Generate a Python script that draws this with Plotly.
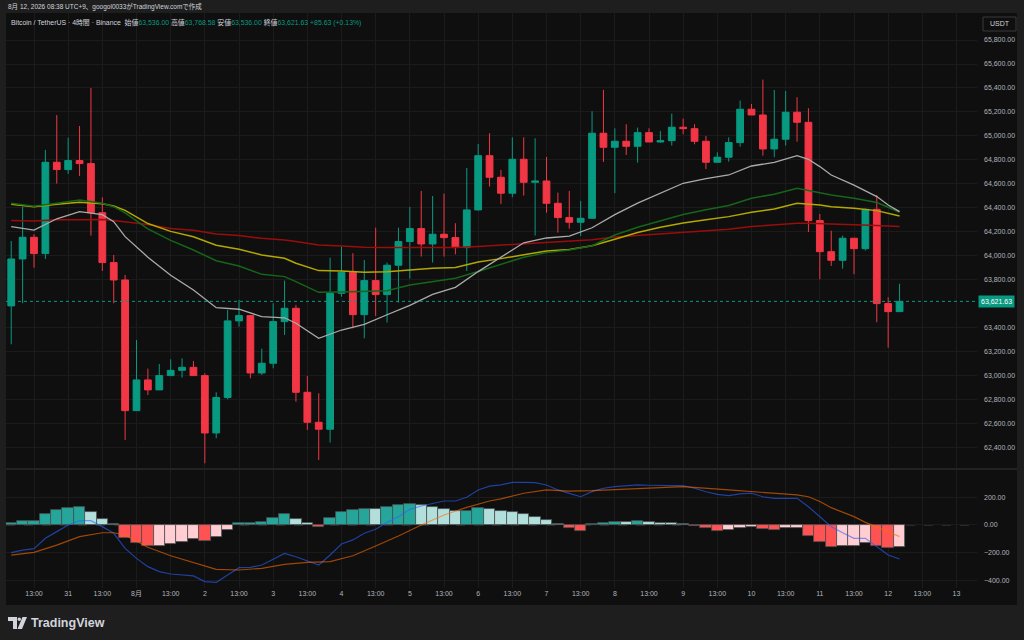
import pandas as pd
import plotly.graph_objects as go

# 4h candles, JST (UTC+9)
start = pd.Timestamp('2026-07-30 05:00')
times = pd.date_range(start, periods=79, freq='4h')

opens = [63584, 63975, 64156, 64020, 64781, 64720, 64795, 64770, 64361, 63945,
         63800, 62711, 62967, 62884, 63003, 63047, 63072, 63003, 62525, 62820,
         63459, 63503, 63025, 63106, 63453, 63564, 62864, 62614, 62556, 63689,
         63864, 63511, 63795, 63678, 63923, 64120, 64228, 64100, 64181, 64153,
         64070, 64384, 64836, 64656, 64523, 64806, 64614, 64625, 64439, 64320,
         64281, 64314, 65023, 64906, 64956, 64914, 65028, 64950, 64961, 65073,
         65061, 64956, 64781, 64823, 64945, 65223, 65175, 64892, 64973, 65198,
         65114, 64295, 64036, 63964, 64148, 64061, 64389, 63603, 63536.00]
highs = [64125, 64411, 64181, 64884, 65175, 64986, 65084, 65400, 64489, 64009,
         63842, 63300, 63061, 63100, 63139, 63147, 63125, 63022, 62864, 63550,
         63634, 63503, 63228, 63606, 63795, 63592, 63000, 62856, 63986, 64078,
         64023, 63967, 64236, 63945, 64236, 64409, 64542, 64500, 64520, 64273,
         64734, 64934, 65023, 64717, 64989, 64989, 64981, 64825, 64528, 64542,
         64459, 65206, 65384, 65064, 65098, 65070, 65064, 65042, 65186, 65145,
         65098, 65000, 64864, 64989, 65295, 65267, 65470, 65384, 65375, 65323,
         65231, 64350, 64211, 64170, 64148, 64395, 64509, 63656, 63768.58]
lows = [63264, 63606, 63903, 63975, 64603, 64684, 64667, 64170, 63875, 63606,
        62467, 62711, 62842, 62884, 63003, 62986, 63003, 62272, 62481, 62806,
        63411, 62981, 63009, 63064, 63342, 62786, 62550, 62300, 62445, 63661,
        63397, 63314, 63500, 63445, 63611, 63811, 63995, 63945, 63995, 64014,
        63875, 64378, 64578, 64434, 64489, 64503, 64170, 64361, 64195, 64228,
        64167, 64314, 64784, 64523, 64842, 64778, 64950, 64945, 64920, 65014,
        64931, 64725, 64781, 64786, 64911, 65175, 64836, 64823, 64920, 64953,
        64200, 63806, 63917, 63895, 63848, 64045, 63448, 63236, 63536.00]
closes = [63975, 64156, 64020, 64781, 64720, 64795, 64770, 64361, 63945, 63800,
          62711, 62967, 62884, 63003, 63047, 63072, 63003, 62525, 62820, 63459,
          63503, 63025, 63106, 63453, 63564, 62864, 62614, 62556, 63689, 63864,
          63511, 63795, 63678, 63923, 64120, 64228, 64100, 64181, 64153, 64070,
          64384, 64836, 64656, 64523, 64806, 64614, 64625, 64439, 64320, 64281,
          64314, 65023, 64906, 64956, 64914, 65028, 64950, 64961, 65073, 65061,
          64956, 64781, 64823, 64945, 65223, 65175, 64892, 64973, 65198, 65114,
          64295, 64036, 63964, 64148, 64061, 64389, 63603, 63536, 63621.63]

# moving averages at these candle indexes
ma_idx = [0, 2, 4, 6, 8, 9, 10, 12, 14, 16, 18, 20, 22, 24, 25, 27, 29, 31, 33, 35,
          37, 39, 41, 43, 45, 47, 49, 51, 53, 55, 57, 59, 61, 63, 65, 67, 69, 70, 71, 72,
          74, 76, 77, 78]
ma_gray = [64245, 64215, 64310, 64369, 64345, 64286, 64161, 63990, 63840, 63717,
           63569, 63556, 63494, 63485, 63439, 63314, 63383, 63430, 63510, 63589,
           63680, 63739, 63870, 63990, 64110, 64150, 64165, 64235, 64345, 64440,
           64523, 64606, 64645, 64675, 64750, 64780, 64836, 64806, 64745, 64675,
           64590, 64495, 64425, 64370]
ma_green = [64440, 64415, 64440, 64467, 64440, 64411, 64360, 64225, 64130, 64050,
            63960, 63917, 63847, 63828, 63786, 63697, 63700, 63705, 63711, 63759,
            63785, 63814, 63870, 63930, 63990, 64028, 64050, 64085, 64175, 64240,
            64290, 64345, 64385, 64420, 64481, 64515, 64564, 64545, 64523, 64509,
            64481, 64445, 64406, 64364]
ma_yellow = [64432, 64411, 64431, 64447, 64435, 64417, 64380, 64270, 64205, 64160,
             64090, 64056, 64009, 63981, 63939, 63878, 63875, 63864, 63868, 63885,
             63897, 63905, 63950, 63978, 64010, 64042, 64054, 64085, 64140, 64195,
             64240, 64275, 64302, 64328, 64364, 64392, 64439, 64432, 64425, 64411,
             64398, 64378, 64356, 64334]
ma_red = [64295, 64292, 64302, 64306, 64304, 64295, 64285, 64262, 64230, 64215,
          64184, 64170, 64147, 64134, 64120, 64092, 64084, 64072, 64070, 64070,
          64070, 64070, 64080, 64090, 64100, 64114, 64120, 64135, 64158, 64172,
          64185, 64195, 64210, 64222, 64245, 64258, 64272, 64272, 64270, 64268,
          64264, 64255, 64250, 64245]

# MACD
hist = [12, 26, 31, 82, 108, 125, 127, 96, 46, 7,
        -94, -133, -152, -150, -137, -123, -104, -113, -84, -36,
        15, 17, 24, 50, 77, 46, 12, -12, 48, 96,
        106, 118, 116, 132, 142, 151, 142, 132, 118, 98,
        100, 123, 118, 98, 95, 77, 60, 34, 7, -24,
        -41, 5, 17, 24, 22, 29, 19, 12, 11, 7,
        -7, -24, -40, -38, -22, -12, -31, -36, -24, -22,
        -77, -125, -157, -152, -151, -128, -149, -164, -157]
macd_line = [-200, -181, -171, -96, -48, 0, 31, 31, -12, -60,
             -169, -241, -301, -337, -354, -361, -368, -409, -414, -361,
             -308, -306, -289, -248, -205, -229, -258, -289, -217, -137,
             -108, -60, -31, 19, 60, 113, 137, 156, 173, 173,
             200, 253, 281, 290, 308, 308, 306, 289, 253, 228,
             204, 241, 265, 277, 285, 289, 287, 284, 284, 284,
             265, 240, 221, 212, 224, 229, 204, 192, 192, 192,
             132, 60, -12, -56, -96, -96, -157, -217, -246]
sig_idx = [0, 2, 4, 6, 8, 9, 10, 12, 14, 16, 18, 20, 22, 24, 26, 28, 30, 32, 34, 36,
           38, 40, 42, 43, 45, 47, 49, 51, 55, 59, 63, 65, 67, 69, 70, 71, 72, 74, 75, 76,
           77, 78]
signal = [-217, -198, -145, -84, -56, -56, -72, -161, -222, -272, -320, -325, -313, -284,
          -270, -265, -222, -152, -80, 0, 72, 127, 173, 188, 229, 253, 245, 248, 265, 277,
          253, 241, 224, 217, 204, 170, 125, 60, 19, -12, -48, -84]

UP = '#089981'
DOWN = '#F23645'
BG = '#0f0f0f'
FRAME = '#1e1e1e'
GRID = '#1b1b1b'
TXT = '#b2b5be'
FONT = 'Liberation Sans, Noto Sans CJK JP, sans-serif'

W, H = 1024, 640
L, R, T, B = 6, 47, 13, 52
pw, ph = W - L - R, H - T - B


def px(x):
    return (x - L) / pw


def py(y):
    return (H - B - y) / ph


hist_colors = []
for i, v in enumerate(hist):
    p = hist[i - 1] if i else 0
    if v >= 0:
        hist_colors.append('#26A69A' if v > p else '#B2DFDB')
    else:
        hist_colors.append('#FFCDD2' if v > p else '#FF5252')

ma_x = [times[i] for i in ma_idx]
sig_x = [times[i] for i in sig_idx]

fig = go.Figure()
for vals, col, w in [(ma_red, '#990d0d', 1.5), (ma_yellow, '#b3a800', 1.5),
                     (ma_green, '#15661a', 1.5), (ma_gray, '#ababab', 1.3)]:
    fig.add_trace(go.Scatter(x=ma_x, y=vals, mode='lines', line=dict(color=col, width=w),
                             xaxis='x', yaxis='y', hoverinfo='skip'))
fig.add_trace(go.Candlestick(
    x=times, open=opens, high=highs, low=lows, close=closes,
    increasing=dict(line=dict(color=UP, width=1), fillcolor=UP),
    decreasing=dict(line=dict(color=DOWN, width=1), fillcolor=DOWN),
    whiskerwidth=0, xaxis='x', yaxis='y'))

fig.add_trace(go.Bar(x=times, y=hist, marker=dict(color=hist_colors, line=dict(color='#4a4f50', width=0.8)),
                     width=4 * 3600 * 1000, xaxis='x2', yaxis='y2'))
fig.add_trace(go.Scatter(x=times, y=macd_line, mode='lines', line=dict(color='rgba(41,98,255,0.6)', width=1.2),
                         xaxis='x2', yaxis='y2'))
fig.add_trace(go.Scatter(x=sig_x, y=signal, mode='lines', line=dict(color='rgba(255,109,0,0.6)', width=1.2),
                         xaxis='x2', yaxis='y2'))

tick_times = pd.date_range('2026-07-30 13:00', '2026-08-13 01:00', freq='12h')
tick_text = []
for t in tick_times:
    if t.hour == 13:
        tick_text.append('13:00')
    elif t.day == 1:
        tick_text.append(f'{t.month}月')
    else:
        tick_text.append(str(t.day))

# price scale labels (the one under the last-price tag is hidden, as in TradingView)
price_ticks = [p for p in range(62400, 66000, 200) if p != 63600]

x_range = [pd.Timestamp('2026-07-30 03:10'), pd.Timestamp('2026-08-13 08:12')]
xcommon = dict(range=x_range, tickvals=tick_times, ticktext=tick_text, showgrid=True, gridcolor=GRID,
               gridwidth=1, zeroline=False, showline=False, ticks='', rangeslider=dict(visible=False),
               tickfont=dict(size=7, color=TXT, family=FONT))

fig.update_layout(
    width=W, height=H, margin=dict(l=L, r=R, t=T, b=B),
    paper_bgcolor=FRAME, plot_bgcolor=BG, showlegend=False, boxgap=0.15, bargap=0,
    xaxis=dict(domain=[0, 1], anchor='y', showticklabels=False, **xcommon),
    xaxis2=dict(domain=[0, 1], anchor='y2', matches='x', **xcommon),
    yaxis=dict(domain=[py(468), 1], anchor='x', side='right', range=[62233, 66025],
               tickvals=price_ticks, tickformat=',.2f', showgrid=True, gridcolor=GRID, zeroline=False,
               ticks='', ticklabelstandoff=6, tickfont=dict(size=7, color=TXT, family=FONT)),
    yaxis2=dict(domain=[0, py(470)], anchor='x2', side='right', range=[-455, 397],
                tickvals=[-400, -200, 0, 200], tickformat='.2f', showgrid=True, gridcolor=GRID,
                zeroline=False, ticks='', ticklabelstandoff=6, tickfont=dict(size=7, color=TXT, family=FONT)),
)

shapes = [
    dict(type='rect', xref='paper', yref='paper', x0=0, x1=px(1017), y0=py(605), y1=1,
         fillcolor=BG, line=dict(width=0), layer='below'),
    dict(type='line', xref='paper', yref='paper', x0=0, x1=px(1017), y0=py(469), y1=py(469),
         line=dict(color='#2a2a2a', width=1.5)),
    dict(type='line', xref='x domain', yref='y', x0=0, x1=1, y0=closes[-1], y1=closes[-1],
         line=dict(color=UP, width=1, dash='dot')),
    dict(type='line', xref='x2 domain', yref='y2', x0=0, x1=1, y0=0, y1=0,
         line=dict(color='#4a4a4a', width=1, dash='dash'), layer='below'),
    # USDT box
    dict(type='rect', xref='paper', yref='paper', x0=px(983), x1=px(1016), y0=py(31), y1=py(17),
         fillcolor=BG, line=dict(color='#3a3a3a', width=1)),
]
# TradingView logo mark
shapes += [
    dict(type='path', xref='paper', yref='paper', line=dict(width=0), fillcolor='#d1d4dc',
         path=f'M {px(8)},{py(617)} L {px(17)},{py(617)} L {px(17)},{py(629)} L {px(13)},{py(629)} '
              f'L {px(13)},{py(621)} L {px(8)},{py(621)} Z'),
    dict(type='circle', xref='paper', yref='paper', line=dict(width=0), fillcolor='#d1d4dc',
         x0=px(17.5), x1=px(21), y0=py(621), y1=py(617.5)),
    dict(type='path', xref='paper', yref='paper', line=dict(width=0), fillcolor='#d1d4dc',
         path=f'M {px(22.5)},{py(617)} L {px(27)},{py(617)} L {px(22)},{py(629)} L {px(17.5)},{py(629)} Z'),
]

chg = closes[-1] - closes[-2]
pct = chg / closes[-2] * 100


def val(v):
    return f'<span style="color:{UP}">{v}</span>'


legend_text = ('Bitcoin / TetherUS · 4時間 · Binance  '
               f'始値{val(f"{opens[-1]:,.2f}")} 高値{val(f"{highs[-1]:,.2f}")} '
               f'安値{val(f"{lows[-1]:,.2f}")} 終値{val(f"{closes[-1]:,.2f}")} '
               f'{val(f"+{chg:,.2f} (+{pct:.2f}%)")}')

annotations = [
    dict(xref='paper', yref='paper', x=px(6), y=py(7), xanchor='left', yanchor='middle', showarrow=False,
         text='8月 12, 2026 08:38 UTC+9、googol0033がTradingView.comで作成',
         font=dict(size=6.5, color='#d1d4dc', family=FONT)),
    dict(xref='paper', yref='paper', x=px(9), y=py(22), xanchor='left', yanchor='middle', showarrow=False,
         text=legend_text, font=dict(size=6.9, color='#d1d4dc', family=FONT)),
    dict(xref='paper', yref='paper', x=px(999.5), y=py(24), xanchor='center', yanchor='middle', showarrow=False,
         text='USDT', font=dict(size=7, color='#d1d4dc', family=FONT)),
    dict(xref='paper', yref='y', x=px(997), y=closes[-1], xanchor='center', yanchor='middle', showarrow=False,
         text=f'{closes[-1]:,.2f}', font=dict(size=7, color='#ffffff', family=FONT), bgcolor=UP, borderpad=2),
    dict(xref='paper', yref='paper', x=px(29), y=py(623), xanchor='left', yanchor='middle', showarrow=False,
         text='<b>TradingView</b>', font=dict(size=12.5, color='#d1d4dc', family=FONT)),
]

fig.update_layout(shapes=shapes, annotations=annotations)
fig.write_html('out.html', config={'displayModeBar': False},
               post_script="document.body.style.margin='0';document.body.style.padding='0';")
